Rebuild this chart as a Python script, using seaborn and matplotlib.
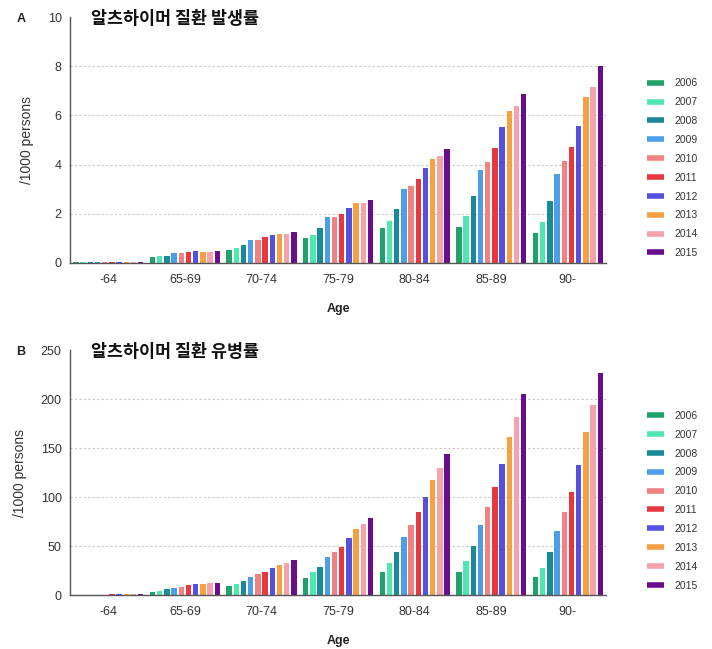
import matplotlib
matplotlib.use("Agg")
import matplotlib.pyplot as plt
import pandas as pd
import seaborn as sns
from matplotlib.lines import Line2D

# Age groups and survey years
age_groups = ["-64", "65-69", "70-74", "75-79", "80-84", "85-89", "90-"]
years = ["2006", "2007", "2008", "2009", "2010", "2011", "2012", "2013", "2014", "2015"]

# Incidence per 1000 persons, one list per age group (2006 -> 2015)
inc_u64 = [0.02, 0.02, 0.02, 0.03, 0.03, 0.03, 0.03, 0.03, 0.03, 0.03]
inc_65_69 = [0.26, 0.27, 0.29, 0.39, 0.39, 0.45, 0.47, 0.44, 0.45, 0.47]
inc_70_74 = [0.54, 0.60, 0.72, 0.95, 0.95, 1.04, 1.12, 1.18, 1.18, 1.25]
inc_75_79 = [1.02, 1.15, 1.41, 1.88, 1.88, 1.99, 2.24, 2.42, 2.42, 2.56]
inc_80_84 = [1.41, 1.69, 2.20, 2.99, 3.13, 3.43, 3.88, 4.22, 4.35, 4.65]
inc_85_89 = [1.46, 1.90, 2.71, 3.78, 4.12, 4.69, 5.51, 6.19, 6.39, 6.88]
inc_90 = [1.20, 1.66, 2.50, 3.63, 4.16, 4.73, 5.58, 6.75, 7.17, 8.00]

# Prevalence per 1000 persons, one list per age group (2006 -> 2015)
prev_u64 = [0.3, 0.3, 0.4, 0.5, 0.5, 0.6, 0.7, 0.8, 0.8, 0.9]
prev_65_69 = [3.4, 4.4, 5.8, 7.5, 8.5, 9.9, 11.2, 11.2, 11.9, 12.6]
prev_70_74 = [9.2, 11.2, 14.3, 18.7, 21.1, 23.8, 27.2, 30.6, 33.0, 35.7]
prev_75_79 = [17.0, 23.1, 28.9, 38.4, 44.2, 49.3, 57.8, 67.1, 72.2, 79.0]
prev_80_84 = [23.2, 33.0, 44.0, 59.3, 71.2, 84.2, 99.8, 116.9, 129.1, 143.8]
prev_85_89 = [23.9, 35.1, 50.1, 71.5, 90.3, 109.7, 133.2, 161.2, 181.6, 204.8]
prev_90 = [18.7, 27.6, 43.6, 65.8, 84.2, 104.9, 132.5, 165.9, 193.5, 226.2]

year_colors = ["#1fa36a", "#4fe6b0", "#1b8a98", "#4a9fe6", "#f08282",
               "#e8383f", "#5451e0", "#f5a043", "#f5a3aa", "#6a0d8c"]

incidence = [inc_u64, inc_65_69, inc_70_74, inc_75_79, inc_80_84, inc_85_89, inc_90]
prevalence = [prev_u64, prev_65_69, prev_70_74, prev_75_79, prev_80_84, prev_85_89, prev_90]


def to_long(table):
    rows = []
    for age, vals in zip(age_groups, table):
        for yr, v in zip(years, vals):
            rows.append({"age": age, "year": yr, "value": v})
    return pd.DataFrame(rows)


sns.set_theme(style="white")
plt.rcParams["font.family"] = ["Liberation Sans", "Noto Sans CJK KR", "DejaVu Sans"]

fig = plt.figure(figsize=(7.12, 6.49), dpi=100)
ax_a = fig.add_axes([0.0983, 0.5948, 0.753, 0.379])
ax_b = fig.add_axes([0.0983, 0.0832, 0.753, 0.3775])

panels = [
    (ax_a, incidence, "알츠하이머 질환 발생률", 10, 2, "A"),
    (ax_b, prevalence, "알츠하이머 질환 유병률", 250, 50, "B"),
]

axis_gray = "#555555"
for ax, table, title, ymax, step, tag in panels:
    df = to_long(table)
    sns.barplot(data=df, x="age", y="value", hue="year", hue_order=years,
                order=age_groups, palette=year_colors, width=0.94, gap=0.25,
                errorbar=None, legend=False, saturation=1, linewidth=0, ax=ax)
    ax.set_xlim(-0.5, 6.5)
    ax.set_ylim(0, ymax)
    ticks = list(range(0, ymax + 1, step))
    ax.set_yticks(ticks)
    for t in ticks[1:-1]:
        ax.axhline(t, color="#c8c8c8", lw=0.8, ls=(0, (2, 2)), zorder=0)
    for s in ["top", "right"]:
        ax.spines[s].set_visible(False)
    for s in ["left", "bottom"]:
        ax.spines[s].set_color(axis_gray)
        ax.spines[s].set_linewidth(1.0)
    ax.tick_params(axis="both", direction="out", length=3, width=0.8,
                   color=axis_gray, labelsize=9, labelcolor="#333333", pad=3)
    ax.tick_params(axis="x", pad=5)
    ax.set_xlabel("Age", fontsize=9, fontweight="bold", color="#222222", labelpad=12)
    ax.set_ylabel("/1000 persons", fontsize=10, color="#333333", labelpad=10)
    ax.text(0.04, 0.99, title, transform=ax.transAxes, fontsize=12.5, fontweight="bold",
            family=["Noto Sans CJK KR"], va="center", ha="left", color="#111111")
    ax.text(-0.1, 0.99, tag, transform=ax.transAxes, fontsize=9, fontweight="bold",
            va="center", ha="left", color="#222222")
    handles = [Line2D([0], [0], color=c, lw=4, solid_capstyle="butt") for c in year_colors]
    ax.legend(handles, years, loc="center left", bbox_to_anchor=(1.058, 0.385),
              frameon=False, fontsize=7.5, handlelength=1.7, handletextpad=1.0,
              labelspacing=0.85, labelcolor="#333333")

fig.savefig("out.png", dpi=100)
